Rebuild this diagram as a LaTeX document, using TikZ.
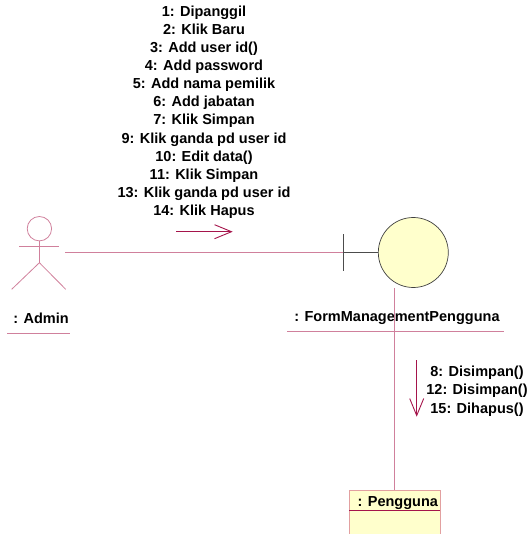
\documentclass[tikz,border=0pt]{standalone}
\usepackage{fontspec}
\setmainfont{Liberation Sans}
\usetikzlibrary{positioning,arrows.meta}
\definecolor{roselink}{RGB}{208,128,156}
\definecolor{rosemsg}{RGB}{165,20,75}
\definecolor{roseyellow}{RGB}{255,255,204}
\definecolor{roseborder}{RGB}{226,160,160}

\tikzset{
  link/.style={draw=roselink,line width=0.8pt},
  msg/.style={draw=rosemsg,line width=0.9pt,-{Straight Barb[length=17pt,width=14pt]}},
  lbl/.style={font=\bfseries\fontsize{14.5}{18.1}\selectfont,align=center,inner sep=0pt},
}

\begin{document}
\begin{tikzpicture}[x=1pt,y=-1pt]
      \useasboundingbox (0,0) rectangle (531,534);

      \node[circle,draw=roselink,line width=0.8pt,minimum size=24.4pt,inner sep=0pt] (head) at (39.4,228.7) {};
      \coordinate (hip) at (39.4,262.7);
      \coordinate (armL) at (19,246);
      \coordinate (armR) at (59,246);
      \coordinate (legL) at (11.7,289.3);
      \coordinate (legR) at (65.7,289.3);
      \coordinate (hand) at (65,252.5);
      \draw[link] (head.south) -- (hip);
      \draw[link] (armL) -- (armR);
      \draw[link] (legL) -- (hip) -- (legR);
      \node[lbl] (admin) at (41,318) {: Admin};
      \draw[link] (7,333.3) -- (70,333.3);

      \node[circle,draw=black!75,fill=roseyellow,line width=0.7pt,minimum size=70pt,inner sep=0pt] (form) at (413.3,252.5) {};
      \coordinate (bar) at (343.3,252.5);
      \draw[black!70,line width=1pt] (343.3,234.3) -- (343.3,271);
      \draw[black!70,line width=1pt] (bar) -- (form.west);
      \node[lbl] (formlbl) at (397,318) {: FormManagementPengguna};
      \draw[link] (287,331) -- (504,331);

      \node[draw=roseborder,fill=roseyellow,line width=0.8pt,minimum width=90.7pt,minimum height=60pt,inner sep=0pt] (pengguna) at (394.7,520) {};
      \node[lbl] (penglbl) at (397.8,503) {: Pengguna};
      \draw[draw=rosemsg,line width=0.9pt] (349.3,510.3) -- (440,510.3);

      \draw[link] (hand) -- (bar);
      \draw[link] (pengguna.north) -- (pengguna.north |- form.south);

      \coordinate (m1s) at (176,231.7);
      \coordinate (m1e) at (232.7,231.7);
      \draw[msg] (m1s) -- (m1e);
      \node[lbl] (m1) at (204,112.2) {1: Dipanggil\\2: Klik Baru\\3: Add user id()\\4: Add password\\5: Add nama pemilik\\6: Add jabatan\\7: Klik Simpan\\9: Klik ganda pd user id\\10: Edit data()\\11: Klik Simpan\\13: Klik ganda pd user id\\14: Klik Hapus};

      \coordinate (m2s) at (416.7,360);
      \coordinate (m2e) at (416.7,416.7);
      \draw[msg] (m2s) -- (m2e);
      \node[lbl] (m2) at (477,391.2) {8: Disimpan()\\12: Disimpan()\\15: Dihapus()};
\end{tikzpicture}
\end{document}
